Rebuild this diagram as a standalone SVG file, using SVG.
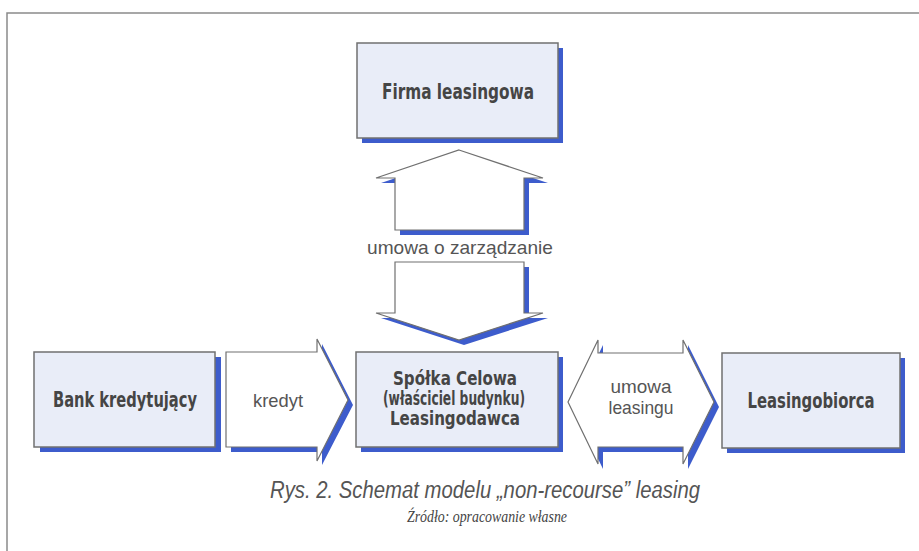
<svg xmlns="http://www.w3.org/2000/svg" width="919" height="551" viewBox="0 0 919 551">
<style>
.box{fill:#e9edf8;stroke:#707070;stroke-width:1.5}
.shadow{fill:#3d5ccc}
.arrow{fill:#ffffff;stroke:#707070;stroke-width:1.2;stroke-linejoin:miter}
.bold{font-family:"DejaVu Sans Condensed","Liberation Sans",sans-serif;font-weight:bold;font-size:22px;fill:#454545;text-anchor:middle}
.bold3{font-size:19px}
.lbl{font-family:"Liberation Sans",Arial,sans-serif;font-size:19px;fill:#555;text-anchor:middle}
.frame{stroke:#8a8a8a;stroke-width:1.5;fill:none}
</style>
<rect width="919" height="551" fill="#ffffff"/>
<path class="frame" d="M7,551 V13 H919"/>

<g id="connectors">
  <g id="arrow-zarzadzanie-up">
    <polygon class="shadow" points="464,155 548,183 529,183 529,235 400,235 400,183 381,183"/>
    <polygon class="arrow" points="459,150 543,178 524,178 524,230 395,230 395,178 376,178"/>
  </g>
  <g id="arrow-zarzadzanie-down">
    <polygon class="shadow" points="400,267 529,267 529,318 548,318 464,345 381,318 400,318"/>
    <polygon class="arrow" points="395,262 524,262 524,313 543,313 459,340 376,313 395,313"/>
  </g>
  <text class="lbl" x="460" y="254" font-size="20" textLength="186" lengthAdjust="spacingAndGlyphs">umowa o zarządzanie</text>
  <g id="arrow-kredyt">
    <polygon class="shadow" points="231,357 322,357 322,344 353,405 322,465 322,452 231,452"/>
    <polygon class="arrow" points="226,352 317,352 317,339 348,400 317,461 317,447 226,447"/>
    <text class="lbl" x="278" y="407" textLength="50" lengthAdjust="spacingAndGlyphs">kredyt</text>
  </g>
  <g id="arrow-leasing">
    <polygon class="shadow" points="573,407 603,345 603,358 688,358 688,345 719,407 688,469 688,452 603,452 603,469"/>
    <polygon class="arrow" points="568,402 598,340 598,353 683,353 683,340 714,402 683,464 683,447 598,447 598,464"/>
    <text class="lbl" x="641" y="393" textLength="61" lengthAdjust="spacingAndGlyphs">umowa</text>
    <text class="lbl" x="641" y="414" textLength="65" lengthAdjust="spacingAndGlyphs">leasingu</text>
  </g>
</g>

<g id="firma">
  <rect class="shadow" x="362" y="48" width="201" height="95"/>
  <rect class="box" x="357" y="43" width="201" height="95"/>
  <text class="bold" x="458" y="99" textLength="152" lengthAdjust="spacingAndGlyphs">Firma leasingowa</text>
</g>

<g id="bank">
  <rect class="shadow" x="40" y="357" width="181" height="95"/>
  <rect class="box" x="34" y="352" width="181" height="95"/>
  <text class="bold" x="125" y="407" textLength="144" lengthAdjust="spacingAndGlyphs">Bank kredytujący</text>
</g>

<g id="spolka">
  <rect class="shadow" x="361" y="357" width="202" height="95"/>
  <rect class="box" x="356" y="352" width="202" height="95"/>
  <text class="bold bold3" x="455" y="385" textLength="124" lengthAdjust="spacingAndGlyphs">Spółka Celowa</text>
  <text class="bold bold3" x="454" y="405" textLength="142" lengthAdjust="spacingAndGlyphs">(właściciel budynku)</text>
  <text class="bold bold3" x="455" y="425" textLength="130" lengthAdjust="spacingAndGlyphs">Leasingodawca</text>
</g>

<g id="leasingobiorca">
  <rect class="shadow" x="727" y="358" width="178" height="95"/>
  <rect class="box" x="722" y="353" width="178" height="95"/>
  <text class="bold" x="811" y="408" textLength="127" lengthAdjust="spacingAndGlyphs">Leasingobiorca</text>
</g>

<text x="485" y="498" font-family="Liberation Sans,Arial,sans-serif" font-style="italic" font-size="23" fill="#555" text-anchor="middle" textLength="430" lengthAdjust="spacingAndGlyphs">Rys. 2. Schemat modelu „non-recourse” leasing</text>
<text x="487" y="522" font-family="Liberation Serif,Times New Roman,serif" font-style="italic" font-size="16" fill="#444" text-anchor="middle" textLength="160" lengthAdjust="spacingAndGlyphs">Źródło: opracowanie własne</text>
</svg>
